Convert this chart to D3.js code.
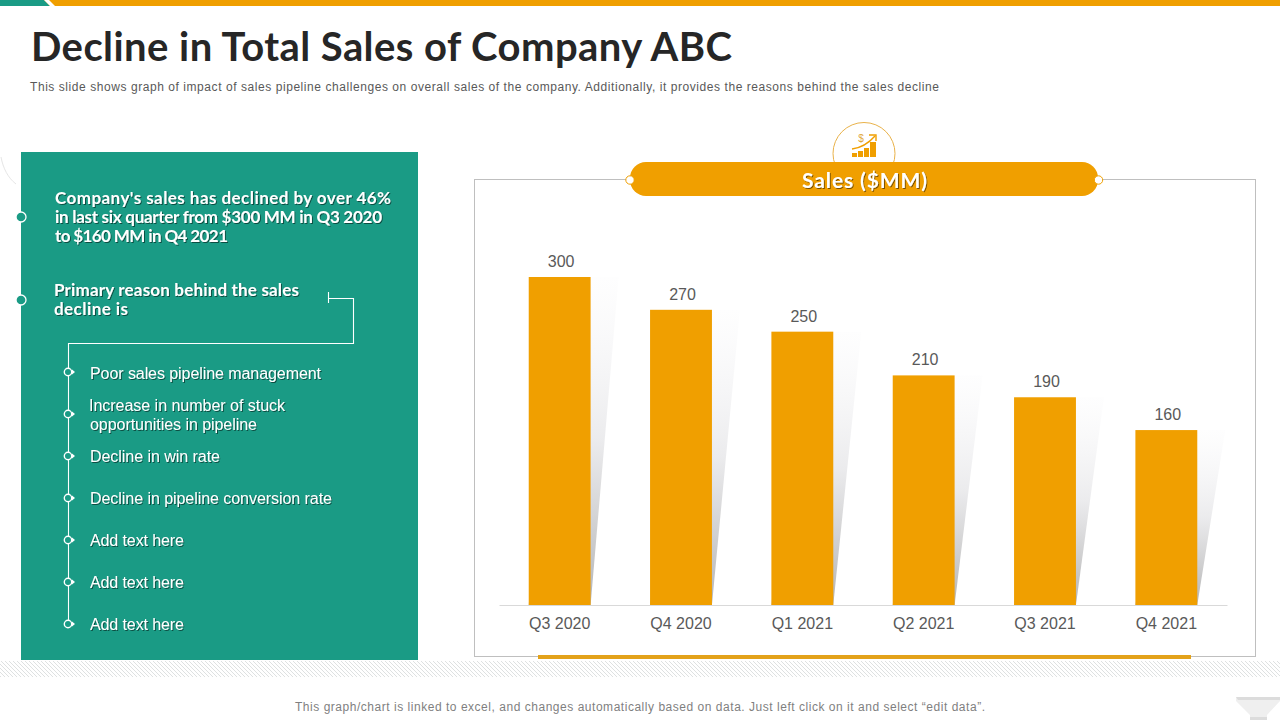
<!DOCTYPE html>
<html><head><meta charset="utf-8">
<script src="https://d3js.org/d3.v7.min.js"></script>
<style>html,body{margin:0;padding:0;background:#fff;overflow:hidden}svg{display:block}text{font-family:"Liberation Sans",Arial,sans-serif}</style>
</head><body><svg id="c" width="1280" height="720"></svg>
<script>
const categories = ["Q3 2020","Q4 2020","Q1 2021","Q2 2021","Q3 2021","Q4 2021"];
const sales = [300,270,250,210,190,160];
const titleText = "Decline in Total Sales of Company ABC";
const subtitleText = "This slide shows graph of impact of sales pipeline challenges on overall sales of the company. Additionally, it provides the reasons behind the sales decline";
const footerText = "This graph/chart is linked to excel, and changes automatically based on data. Just left click on it and select “edit data”.";
const chartTitle = "Sales ($MM)";
const summaryLines = ["Company's sales has declined by over 46%","in last six quarter from $300 MM in Q3 2020","to $160 MM in Q4 2021"];
const reasonLines = ["Primary reason behind the sales","decline is"];
const reasonItems = [["Poor sales pipeline management"],["Increase in number of stuck","opportunities in pipeline"],["Decline in win rate"],["Decline in pipeline conversion rate"],["Add text here"],["Add text here"],["Add text here"]];

const TEAL="#1a9b85", ORANGE="#f09f00", INK="#595959";
const svg=d3.select("#c");
const defs=svg.append("defs");

const shadow=defs.append("filter").attr("id","ts").attr("x","-5%").attr("y","-30%").attr("width","110%").attr("height","170%");
shadow.append("feDropShadow").attr("dx",1).attr("dy",1).attr("stdDeviation",0.7).attr("flood-color","#000").attr("flood-opacity",0.5);
const grad=defs.append("linearGradient").attr("id","bs").attr("x1",0).attr("y1",0).attr("x2",0).attr("y2",1);
grad.append("stop").attr("offset",0).attr("stop-color","#f4f4f6").attr("stop-opacity",0.1);
grad.append("stop").attr("offset",0.5).attr("stop-color","#e9e9eb").attr("stop-opacity",0.9);
grad.append("stop").attr("offset",1).attr("stop-color","#b5b5b5");
const hatch=defs.append("pattern").attr("id","hatch").attr("width",4).attr("height",4).attr("patternUnits","userSpaceOnUse");
hatch.append("path").attr("d","M-1,-1 L5,5 M-1,3 L1,5 M3,-1 L5,1").attr("stroke","#d6d9d9").attr("stroke-width",0.8);

// top band
svg.append("rect").attr("width",1280).attr("height",6).attr("fill",ORANGE);
svg.append("path").attr("d","M0,0H44L50,6H0Z").attr("fill",TEAL);
svg.append("path").attr("d","M44,0H49L55,6H50Z").attr("fill","#fff");

// header
function txt(parent,s,x,y,size,fill,len,opt={}){
  const t=parent.append("text").attr("x",x).attr("y",y).attr("font-size",size).attr("fill",fill).text(s);
  if(len){t.attr("textLength",len).attr("lengthAdjust","spacing");}
  if(opt.bold)t.attr("font-weight",700);
  if(opt.family)t.style("font-family",opt.family);
  if(opt.anchor)t.attr("text-anchor",opt.anchor);
  if(opt.shadow)t.attr("filter","url(#ts)");
  return t;
}
txt(svg,titleText,31,60.5,40,"#262626",701,{bold:true,family:"Lato"});
txt(svg,subtitleText,30,91,12,INK,909);

// hatch strip + footer
svg.append("rect").attr("x",0).attr("y",661).attr("width",1280).attr("height",16).attr("fill","url(#hatch)");
txt(svg,footerText,295,711,12,"#7f7f7f",690);
svg.append("path").attr("d","M1236,697H1280V701L1267,715V720H1250V715L1236,701Z").attr("fill","#efefef");
svg.append("path").attr("d","M1236,697H1280V700H1238Z").attr("fill","#dcdcdc");
svg.append("path").attr("d","M1250,717H1267V720H1250Z").attr("fill","#dcdcdc");

// left panel
svg.append("path").attr("d","M16,184 C8,178 3,168 1,157").attr("fill","none").attr("stroke","#e6e6e6");
svg.append("rect").attr("x",21).attr("y",152).attr("width",397).attr("height",508).attr("fill",TEAL);
[217,300].forEach(y=>svg.append("circle").attr("cx",21).attr("cy",y).attr("r",5).attr("fill",TEAL).attr("stroke","#fff").attr("stroke-width",1.3));
const summaryW=[336,327,173], reasonW=[245,74];
summaryLines.forEach((s,i)=>txt(svg,s,55,204+19*i,17,"#fff",summaryW[i],{bold:true,family:"Lato",shadow:true}));
reasonLines.forEach((s,i)=>txt(svg,s,54,296+19*i,17,"#fff",reasonW[i],{bold:true,family:"Lato",shadow:true}));
svg.append("path").attr("d","M328.5,292V303M328.5,298.5H353.5V343.5H68.5V624").attr("fill","none").attr("stroke","#fff").attr("stroke-width",1.1);
const itemW=[[231],[196,167],[130],[242],[94],[94],[94]];
const itemY=d3.scalePoint().domain(d3.range(reasonItems.length).map(String)).range([372,624]);
reasonItems.forEach((lines,i)=>{
  const cy=itemY(String(i));
  svg.append("circle").attr("cx",68).attr("cy",cy).attr("r",3.7).attr("fill",TEAL).attr("stroke","#fff").attr("stroke-width",1.4);
  svg.append("path").attr("d",`M72,${cy-2.5}L75,${cy}L72,${cy+2.5}Z`).attr("fill","#fff");
  const y0=cy+6-(lines.length-1)*9.5+(i===0?1:0);
  lines.forEach((s,j)=>txt(svg,s,(i===1&&j===0)?89:90,y0+19*j,16,"#fff",itemW[i][j],{shadow:true}));
});

// chart frame
svg.append("rect").attr("x",474.5).attr("y",179.5).attr("width",781).attr("height",477).attr("fill","none").attr("stroke","#bfbfbf");
svg.append("rect").attr("x",538).attr("y",655).attr("width",653).attr("height",4).attr("fill","#e3a21a");

// icon
svg.append("circle").attr("cx",864).attr("cy",153.5).attr("r",31).attr("fill","#fff").attr("stroke","#e9b24a").attr("stroke-width",1);
const icon=svg.append("g").attr("fill",ORANGE);
[[852,153,5,4],[858,151,5,6],[864,148,5,9],[870,142,6,15]].forEach(r=>icon.append("rect").attr("x",r[0]).attr("y",r[1]).attr("width",r[2]).attr("height",r[3]));
svg.append("path").attr("d","M852,149 C860,148 868,144 875,136").attr("fill","none").attr("stroke",ORANGE).attr("stroke-width",1.4);
svg.append("path").attr("d","M869,135H876V141").attr("fill","none").attr("stroke",ORANGE).attr("stroke-width",1.4);
txt(svg,"$",861,142,10,"#e0a83c","",{anchor:"middle"});

// pill
svg.append("rect").attr("x",630).attr("y",162).attr("width",468).attr("height",34).attr("rx",16).attr("fill",ORANGE);
[630,1098.5].forEach(x=>svg.append("circle").attr("cx",x).attr("cy",180).attr("r",4.2).attr("fill","#fff").attr("stroke",ORANGE).attr("stroke-width",1));
txt(svg,chartTitle,864.5,188,21,"#fff",125,{bold:true,family:"Lato",anchor:"middle",shadow:true});

// bars
const x=d3.scaleBand().domain(categories).range([499,1227]).paddingInner(0.49).paddingOuter(0.245);
const y=d3.scaleLinear().domain([0,300]).range([605,277]);
const rows=categories.map((c,i)=>({c,v:sales[i]}));
const skew=28;
svg.append("g").selectAll("path").data(rows).join("path")
  .attr("d",d=>{const l=x(d.c),r=l+x.bandwidth(),b=y(0),t=y(d.v);return `M${l},${b}L${r},${b}L${r+skew},${t}L${l+skew},${t}Z`;})
  .attr("fill","url(#bs)");
svg.append("g").selectAll("rect").data(rows).join("rect")
  .attr("x",d=>x(d.c)).attr("y",d=>y(d.v)).attr("width",x.bandwidth()).attr("height",d=>y(0)-y(d.v)).attr("fill",ORANGE);
svg.append("g").selectAll("text").data(rows).join("text")
  .attr("x",d=>x(d.c)+x.bandwidth()/2+1.5).attr("y",d=>y(d.v)-10).attr("text-anchor","middle")
  .attr("font-size",16).attr("fill",INK).text(d=>d.v);
const ax=svg.append("g").attr("transform",`translate(0,${y(0)})`).call(d3.axisBottom(x).tickSize(0).tickPadding(13));
ax.select(".domain").attr("stroke","#d9d9d9");
ax.selectAll("text").attr("font-size",16).attr("fill",INK).style("font-family",'"Liberation Sans",Arial,sans-serif');
</script></body></html>
